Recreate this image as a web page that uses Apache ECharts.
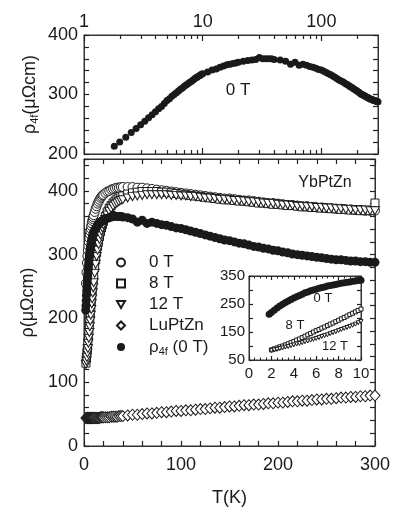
<!DOCTYPE html>
<html>
<head>
<meta charset="utf-8">
<script src="https://cdn.jsdelivr.net/npm/echarts/dist/echarts.min.js"></script>
<style>
html, body { margin: 0; padding: 0; background: #fff; }
#chart { width: 393px; height: 512px; }
</style>
</head>
<body>
<div id="chart"></div>
<script>
// temperatures (K) for the YbPtZn / LuPtZn curves of the lower panel
var tMain = [2, 2.5, 3, 3.5, 4, 4.5, 5, 5.5, 6, 6.5, 7, 7.5, 8, 8.5, 9, 9.5, 10,
	11, 12, 13, 14, 15, 16, 17, 18, 19, 20,
	22, 24, 26, 28, 30, 32, 34, 36, 38, 40,
	45, 50, 55, 60, 65, 70, 75, 80, 85, 90, 95, 100,
	105, 110, 115, 120, 125, 130, 135, 140, 145, 150,
	155, 160, 165, 170, 175, 180, 185, 190, 195, 200,
	205, 210, 215, 220, 225, 230, 235, 240, 245, 250,
	255, 260, 265, 270, 275, 280, 285, 290, 295, 300];

var rho0T = [255, 272, 287, 298, 307, 314, 320, 326, 332, 337, 341, 345, 349, 353, 356, 359, 362,
	367, 372, 376, 380, 383, 386, 389, 391, 393, 394,
	397, 399, 400, 402, 403, 404, 405, 405, 406, 406,
	406, 406, 405, 405, 404, 403, 402, 401, 400, 399, 398, 397,
	396, 395, 394, 393, 392, 391, 390, 389, 388, 388,
	387, 386, 385, 385, 384, 383, 382, 381, 381, 380,
	379, 378, 378, 377, 376, 376, 375, 374, 374, 373,
	373, 372, 372, 371, 371, 370, 370, 369, 369, 369];

var rho8T = [130, 137, 145, 153, 162, 171, 181, 190, 200, 209, 219, 228, 237, 245, 253, 260, 267,
	280, 292, 303, 313, 321, 329, 336, 342, 347, 352,
	360, 367, 373, 377, 381, 384, 387, 389, 391, 392,
	395, 397, 398, 399, 399, 399, 399, 398, 398, 397, 396, 395,
	394, 393, 392, 391, 390, 389, 388, 387, 386, 386,
	385, 384, 384, 383, 382, 381, 381, 380, 379, 379,
	378, 377, 377, 376, 375, 375, 374, 374, 373, 373,
	372, 372, 371, 371, 370, 370, 369, 369, 369, 381];

var rho12T = [128, 133, 139, 146, 153, 161, 169, 178, 187, 196, 205, 214, 223, 231, 240, 248, 256,
	271, 285, 297, 307, 316, 324, 331, 337, 342, 347,
	355, 362, 368, 372, 376, 379, 381, 383, 385, 386,
	389, 391, 392, 393, 394, 394, 394, 394, 394, 393, 393, 392,
	392, 391, 391, 390, 389, 389, 388, 387, 387, 386,
	385, 385, 384, 383, 383, 382, 381, 380, 380, 379,
	378, 378, 377, 376, 376, 375, 375, 374, 374, 373,
	373, 372, 372, 371, 371, 370, 370, 370, 369, 369];

var rhoLu = [44, 44, 44, 44, 44, 44, 44, 44, 44, 44, 44, 44, 44, 44, 44, 44, 44,
	44, 44, 44, 44, 44, 44, 45, 45, 45, 45,
	45, 45, 45, 46, 46, 46, 46, 47, 47, 47,
	48, 49, 49, 50, 51, 51, 52, 53, 53, 54, 55, 55,
	56, 56, 57, 58, 58, 59, 60, 60, 61, 62,
	62, 63, 64, 64, 65, 65, 66, 67, 67, 68,
	68, 69, 70, 70, 71, 71, 72, 73, 73, 74,
	74, 75, 76, 76, 77, 77, 78, 78, 79, 79];

// rho_4f (0 T), used in the top log panel, the lower panel and the inset
var t4f = [1.8, 2, 2.25, 2.5, 2.75, 3, 3.25, 3.5, 3.75, 4, 4.25, 4.5, 4.75, 5, 5.25, 5.5, 5.75,
	6, 6.25, 6.5, 6.75, 7, 7.25, 7.5, 7.75, 8, 8.25, 8.5, 8.75, 9, 9.25, 9.5, 9.75, 10,
	11, 12, 13, 14, 15, 16, 17, 18, 19, 20,
	22, 24, 26, 28, 30, 32, 34, 36, 38, 40,
	45, 50, 55, 60, 65, 70, 75, 80, 85, 90, 95, 100,
	105, 110, 115, 120, 125, 130, 135, 140, 145, 150,
	155, 160, 165, 170, 175, 180, 185, 190, 195, 200,
	205, 210, 215, 220, 225, 230, 235, 240, 245, 250,
	255, 260, 265, 270, 275, 280, 285, 290, 295, 300];

var rho4f = [213, 220, 228, 236, 243, 249, 255, 261, 266, 271, 276, 280, 285, 290, 293, 297, 300,
	303, 306, 309, 311, 314, 316, 318, 320, 322, 324, 326, 328, 329, 331, 332, 334, 335,
	338, 341, 343, 346, 348, 350, 351, 352, 353, 354,
	356, 357, 358, 359, 362, 360, 360, 360, 360, 359,
	358, 356, 351, 354, 349, 351, 349, 347, 346, 344, 342, 341,
	339, 337, 335, 333, 331, 329, 327, 325, 323, 322,
	320, 318, 317, 315, 313, 312, 310, 309, 307, 306,
	304, 303, 301, 300, 299, 298, 297, 296, 295, 294,
	293, 292, 292, 291, 290, 290, 289, 289, 288, 288];

// inset: rho_4f at 8 T and 12 T, 2-10 K
var tInset = [2, 2.25, 2.5, 2.75, 3, 3.25, 3.5, 3.75, 4, 4.25, 4.5, 4.75, 5, 5.25, 5.5, 5.75,
	6, 6.25, 6.5, 6.75, 7, 7.25, 7.5, 7.75, 8, 8.25, 8.5, 8.75, 9, 9.25, 9.5, 9.75, 10];
var inset8T = [86, 90, 93, 97, 100, 104, 108, 112, 116, 121, 125, 130, 135, 140, 145, 150,
	155, 159, 164, 168, 173, 178, 182, 187, 192, 197, 202, 207, 212, 217, 222, 227, 232];
var inset12T = [84, 86, 88, 91, 93, 96, 98, 101, 104, 107, 109, 112, 115, 118, 121, 124,
	127, 130, 134, 137, 140, 144, 148, 151, 155, 159, 163, 166, 170, 174, 178, 183, 187];

var logMinorTicks = [2, 3, 4, 5, 6, 7, 8, 9, 20, 30, 40, 50, 60, 70, 80, 90, 200];

var font = "'Liberation Sans', Arial, Helvetica, sans-serif";
var ink = '#1a1a1a';
var downTriangle = 'path://M0,0L10,0L5,8.7Z';

function zip(xs, ys) {
	var out = [];
	for (var i = 0; i < xs.length; i++) {
		out.push([xs[i], ys[i]]);
	}
	return out;
}

function hundreds(v) {
	return v % 100 === 0 ? String(v) : '';
}

function tick(len) {
	return {show: true, inside: true, length: len, lineStyle: {color: '#222', width: 1.2}};
}

function axisBase(extra) {
	var a = {
		axisLine: {show: true, onZero: false, lineStyle: {color: '#333', width: 1}},
		axisTick: tick(5),
		axisLabel: {show: false},
		splitLine: {show: false},
		minorTick: {show: false},
		nameMoveOverlap: false
	};
	for (var k in extra) a[k] = extra[k];
	return a;
}

var labelStyle = {color: ink, fontFamily: font, fontSize: 18};
var insetLabel = {color: ink, fontFamily: font, fontSize: 15};
var insetMinor = {show: true, splitNumber: 4, length: 2.5, lineStyle: {color: '#222', width: 1}};

var myChart = echarts.init(document.getElementById('chart'));

var option = {
	backgroundColor: '#fff',
	animation: false,
	grid: [
		{left: 84, right: 15, top: 35, height: 119, show: true, borderColor: '#333', borderWidth: 1},
		{left: 84, right: 15, top: 159, bottom: 59, show: true, borderColor: '#333', borderWidth: 1},
		{left: 249, top: 276, width: 112, height: 84, show: true, borderColor: '#333', borderWidth: 1, backgroundColor: '#fff'}
	],
	xAxis: [
		axisBase({gridIndex: 0, type: 'log', logBase: 10, min: 1, max: 300, position: 'top',
			axisTick: tick(6),
			axisLabel: Object.assign({show: true, margin: 4, showMaxLabel: false,
				formatter: function (v) { return String(Math.round(v)); }}, labelStyle)}),
		axisBase({gridIndex: 0, type: 'log', logBase: 10, min: 1, max: 300, position: 'bottom',
			axisTick: tick(6)}),
		axisBase({gridIndex: 1, type: 'value', min: 0, max: 300, interval: 20, position: 'bottom',
			axisLabel: Object.assign({show: true, margin: 10, formatter: hundreds}, labelStyle),
			name: 'T(K)', nameLocation: 'middle', nameGap: 43,
			nameTextStyle: {color: ink, fontFamily: font, fontSize: 18}}),
		axisBase({gridIndex: 1, type: 'value', min: 0, max: 300, interval: 20, position: 'top'}),
		axisBase({gridIndex: 2, type: 'value', min: 0, max: 10, interval: 2, position: 'bottom',
			axisTick: tick(4), minorTick: insetMinor,
			axisLabel: Object.assign({show: true, margin: 6}, insetLabel)}),
		axisBase({gridIndex: 2, type: 'value', min: 0, max: 10, interval: 2, position: 'top',
			axisTick: tick(4), minorTick: insetMinor})
	],
	yAxis: [
		axisBase({gridIndex: 0, type: 'value', min: 200, max: 400, interval: 20, position: 'left',
			axisLabel: Object.assign({show: true, margin: 6, formatter: hundreds}, labelStyle),
			name: '{a|ρ}{s|4f}{a|(μΩcm)}', nameLocation: 'middle', nameRotate: 90, nameGap: 44,
			nameTextStyle: {color: ink, fontFamily: font, fontSize: 18,
				rich: {a: {fontFamily: font, fontSize: 18, color: ink},
					s: {fontFamily: font, fontSize: 11, color: ink, verticalAlign: 'bottom', padding: [8, 0, 0, 0]}}}}),
		axisBase({gridIndex: 0, type: 'value', min: 200, max: 400, interval: 20, position: 'right'}),
		axisBase({gridIndex: 1, type: 'value', min: 0, max: 450, interval: 20, position: 'left',
			axisLabel: Object.assign({show: true, margin: 6, formatter: hundreds}, labelStyle),
			name: 'ρ(μΩcm)', nameLocation: 'middle', nameRotate: 90, nameGap: 47,
			nameTextStyle: {color: ink, fontFamily: font, fontSize: 18}}),
		axisBase({gridIndex: 1, type: 'value', min: 0, max: 450, interval: 20, position: 'right'}),
		axisBase({gridIndex: 2, type: 'value', min: 50, max: 350, interval: 50, position: 'left',
			axisTick: tick(4),
			axisLabel: Object.assign({show: true, margin: 4,
				formatter: function (v) { return (v - 50) % 100 === 0 ? String(v) : ''; }}, insetLabel)}),
		axisBase({gridIndex: 2, type: 'value', min: 50, max: 350, interval: 50, position: 'right',
			axisTick: tick(4)})
	],
	legend: {
		orient: 'vertical',
		left: 116,
		top: 254,
		padding: 0,
		itemWidth: 8,
		itemHeight: 8,
		itemGap: 4,
		selectedMode: false,
		data: ['0 T', '8 T', '12 T', 'LuPtZn', 'ρ4f (0 T)'],
		textStyle: {
			color: ink, fontFamily: font, fontSize: 17,
			rich: {
				a: {fontFamily: font, fontSize: 17, color: ink, lineHeight: 20, padding: [0, 0, 0, 19]},
				b: {fontFamily: font, fontSize: 17, color: ink, lineHeight: 20},
				s: {fontFamily: font, fontSize: 11, color: ink, verticalAlign: 'bottom', lineHeight: 14, padding: [8, 0, 0, 0]}
			}
		},
		formatter: function (name) {
			if (name === 'ρ4f (0 T)') return '{a|ρ}{s|4f}{b| (0 T)}';
			return '{a|' + name + '}';
		}
	},
	graphic: [
		{type: 'text', x: 238, y: 90, style: {text: '0 T', font: '17px ' + font, fill: ink, align: 'center', verticalAlign: 'middle'}},
		{type: 'text', x: 325, y: 183, style: {text: 'YbPtZn', font: '16px ' + font, fill: ink, align: 'center', verticalAlign: 'middle'}, z: 10},
		{type: 'text', x: 323, y: 298, style: {text: '0 T', font: '13px ' + font, fill: ink, align: 'center', verticalAlign: 'middle'}, z: 10},
		{type: 'text', x: 295, y: 325, style: {text: '8 T', font: '13px ' + font, fill: ink, align: 'center', verticalAlign: 'middle'}, z: 10},
		{type: 'text', x: 335, y: 346, style: {text: '12 T', font: '13px ' + font, fill: ink, align: 'center', verticalAlign: 'middle'}, z: 10}
	],
	series: [
		// top panel, log T
		{
			name: 'top', type: 'scatter', xAxisIndex: 0, yAxisIndex: 0,
			symbol: 'circle', symbolSize: 7,
			itemStyle: {color: ink, opacity: 1},
			data: zip(t4f, rho4f)
		},
		{
			name: 'logticks', type: 'custom', xAxisIndex: 0, yAxisIndex: 0, silent: true, z: 10,
			renderItem: function (params, api) {
				var top = api.coord([api.value(0), 400]);
				var bot = api.coord([api.value(0), 200]);
				var x = Math.round(top[0]) + 0.5;
				return {type: 'group', children: [
					{type: 'line', shape: {x1: x, y1: top[1], x2: x, y2: top[1] + 4}, style: {stroke: '#222', lineWidth: 1.2}},
					{type: 'line', shape: {x1: x, y1: bot[1], x2: x, y2: bot[1] - 4}, style: {stroke: '#222', lineWidth: 1.2}}
				]};
			},
			data: logMinorTicks.map(function (v) { return [v, 300]; })
		},
		// lower panel
		{
			name: 'LuPtZn', type: 'scatter', xAxisIndex: 2, yAxisIndex: 2,
			symbol: 'diamond', symbolSize: [10, 11],
			itemStyle: {color: '#fff', borderColor: ink, borderWidth: 1, opacity: 1},
			data: zip(tMain, rhoLu)
		},
		{
			name: '0 T', type: 'scatter', xAxisIndex: 2, yAxisIndex: 2,
			symbol: 'circle', symbolSize: 9,
			itemStyle: {color: '#fff', borderColor: ink, borderWidth: 1, opacity: 1},
			data: zip(tMain, rho0T)
		},
		{
			name: '8 T', type: 'scatter', xAxisIndex: 2, yAxisIndex: 2,
			symbol: 'rect', symbolSize: 8,
			itemStyle: {color: '#fff', borderColor: ink, borderWidth: 1, opacity: 1},
			data: zip(tMain, rho8T)
		},
		{
			name: '12 T', type: 'scatter', xAxisIndex: 2, yAxisIndex: 2,
			symbol: downTriangle, symbolSize: [9, 8],
			itemStyle: {color: '#fff', borderColor: ink, borderWidth: 1, opacity: 1},
			data: zip(tMain, rho12T)
		},
		{
			name: 'ρ4f (0 T)', type: 'scatter', xAxisIndex: 2, yAxisIndex: 2,
			symbol: 'circle', symbolSize: 9,
			itemStyle: {color: ink, opacity: 1},
			data: zip(t4f, rho4f)
		},
		// inset
		{
			name: 'in0', type: 'scatter', xAxisIndex: 4, yAxisIndex: 4, z: 5,
			symbol: 'circle', symbolSize: 7,
			itemStyle: {color: ink, opacity: 1},
			data: zip(t4f, rho4f).filter(function (p) { return p[0] <= 10; })
		},
		{
			name: 'in8', type: 'scatter', xAxisIndex: 4, yAxisIndex: 4, z: 5,
			symbol: 'rect', symbolSize: 4,
			itemStyle: {color: '#fff', borderColor: ink, borderWidth: 1, opacity: 1},
			data: zip(tInset, inset8T)
		},
		{
			name: 'in12', type: 'scatter', xAxisIndex: 4, yAxisIndex: 4, z: 5,
			symbol: downTriangle, symbolSize: 4,
			itemStyle: {color: '#fff', borderColor: ink, borderWidth: 1, opacity: 1},
			data: zip(tInset, inset12T)
		}
	]
};
myChart.setOption(option);
</script>
</body>
</html>
